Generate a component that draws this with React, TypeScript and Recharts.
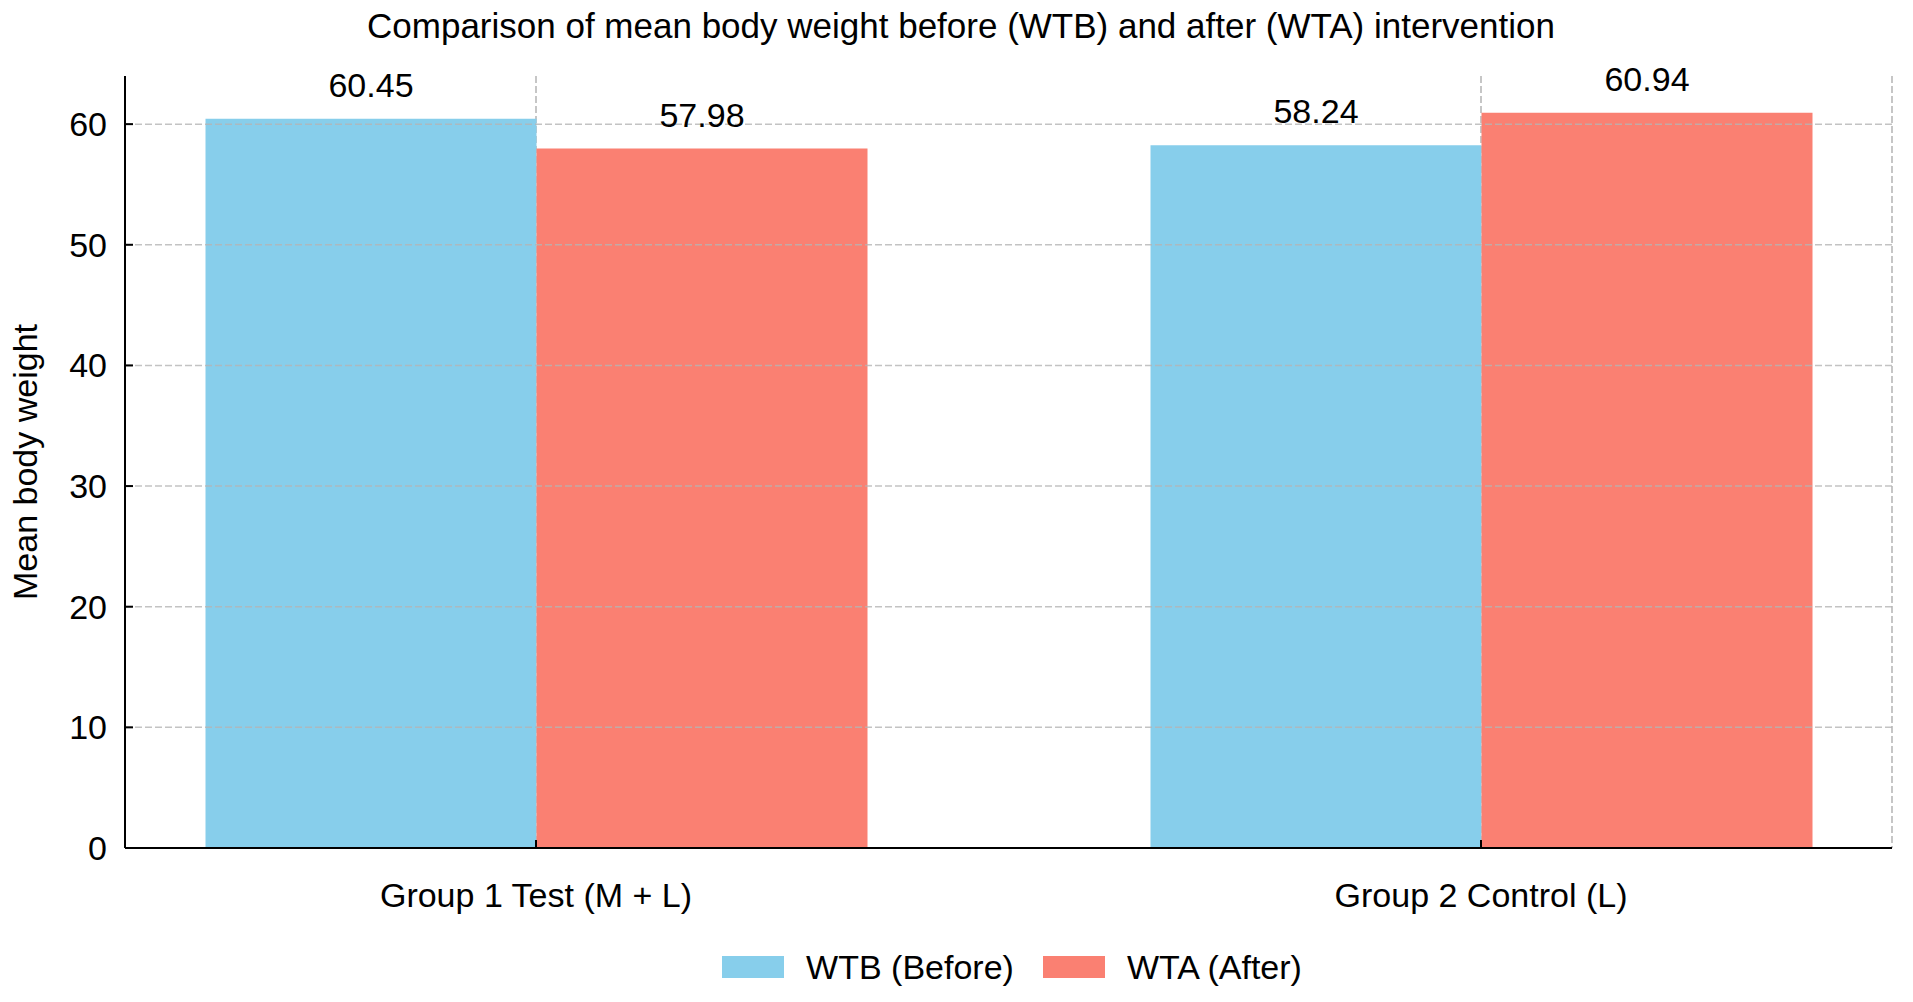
import React from 'react';
import {
  BarChart, Bar, XAxis, YAxis, CartesianGrid, ReferenceLine, Legend, LabelList, Label,
} from 'recharts';

// chart values
const categories = ['Group 1 Test (M + L)', 'Group 2 Control (L)'];
const wtbValues = [60.45, 58.24];
const wtaValues = [57.98, 60.94];
const seriesNames = ['WTB (Before)', 'WTA (After)'];
const seriesColors = ['#87CEEB', '#FA8072'];
const yTicks = [0, 10, 20, 30, 40, 50, 60];

const data = categories.map((name, i) => ({ name, wtb: wtbValues[i], wta: wtaValues[i] }));

const FONT = '"Liberation Sans", Arial, Helvetica, sans-serif';
const GRID = '#b4b4b4';

const LegendContent = (props: any) => {
  // keep the series order (legend would otherwise sort by name)
  const payload = [...(props.payload || [])].sort(
    (a: any, b: any) => seriesNames.indexOf(a.value) - seriesNames.indexOf(b.value),
  );
  return (
    <div style={{ display: 'flex', justifyContent: 'center', alignItems: 'center', fontFamily: FONT }}>
      {payload.map((p: any, i: number) => (
        <div key={i} style={{ display: 'flex', alignItems: 'center', marginLeft: i === 0 ? 0 : 29 }}>
          <span style={{ display: 'inline-block', width: 62, height: 22, background: p.color, marginRight: 22 }} />
          <span style={{ fontSize: 34, lineHeight: '34px', color: '#000' }}>{p.value}</span>
        </div>
      ))}
    </div>
  );
};

const App: React.FC = () => {
  return (
    <div style={{ position: 'absolute', left: 0, top: 0, width: 1913, height: 1002, fontFamily: FONT, background: '#fff' }}>
      <div
        style={{
          position: 'absolute', top: 9, left: 0, width: 1922, textAlign: 'center',
          fontSize: 35, lineHeight: '34px', color: '#000',
        }}
      >
        Comparison of mean body weight before (WTB) and after (WTA) intervention
      </div>
      <BarChart
        width={1913}
        height={1002}
        data={data}
        margin={{ top: 76, right: 21, bottom: 94, left: 0 }}
        barGap={0}
        barSize={331}
        style={{ fontFamily: FONT }}
      >
        <CartesianGrid horizontal={false} stroke={GRID} strokeDasharray="7 3" strokeWidth={1.5} />
        <XAxis
          dataKey="name"
          padding={{ left: -61.5, right: -61.5 }}
          height={60}
          tickSize={-8}
          tickMargin={43}
          axisLine={{ stroke: '#000', strokeWidth: 2 }}
          tickLine={{ stroke: '#000', strokeWidth: 2 }}
          tick={{ fill: '#000', fontSize: 34 }}
        />
        <YAxis
          domain={[0, 63.99]}
          ticks={yTicks}
          width={125}
          tickSize={-8}
          tickMargin={26}
          axisLine={{ stroke: '#000', strokeWidth: 2 }}
          tickLine={{ stroke: '#000', strokeWidth: 2 }}
          tick={{ fill: '#000', fontSize: 34 }}
        >
          <Label value="Mean body weight" angle={-90} position="center" dx={-37.5} fontSize={34} fill="#000" />
        </YAxis>
        <Legend
          layout="horizontal"
          verticalAlign="middle"
          align="center"
          wrapperStyle={{ top: 950, left: 131, width: 1762 }}
          content={<LegendContent />}
        />
        <Bar dataKey="wtb" name={seriesNames[0]} fill={seriesColors[0]} isAnimationActive={false}>
          <LabelList dataKey="wtb" position="top" offset={22} fill="#000" fontSize={34} formatter={(v: any) => Number(v).toFixed(2)} />
        </Bar>
        <Bar dataKey="wta" name={seriesNames[1]} fill={seriesColors[1]} isAnimationActive={false}>
          <LabelList dataKey="wta" position="top" offset={22} fill="#000" fontSize={34} formatter={(v: any) => Number(v).toFixed(2)} />
        </Bar>
        {yTicks.filter((t) => t > 0).map((t) => (
          <ReferenceLine key={t} y={t} stroke={GRID} strokeDasharray="7 3" strokeWidth={1.5} strokeOpacity={0.8} />
        ))}
      </BarChart>
    </div>
  );
};

export default App;
